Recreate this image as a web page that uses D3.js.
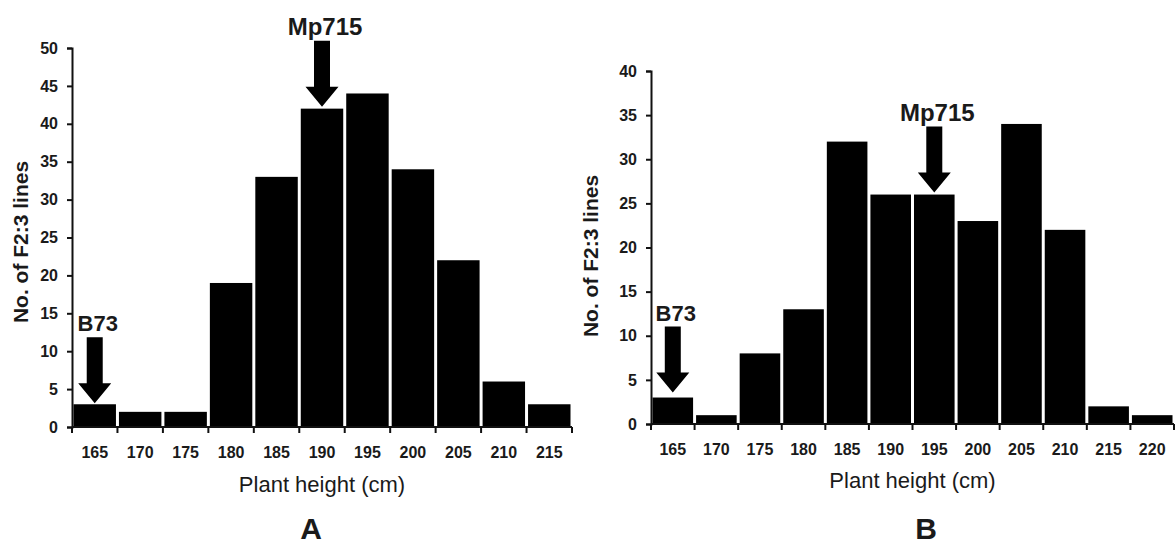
<!DOCTYPE html>
<html>
<head>
<meta charset="utf-8">
<script src="https://cdn.jsdelivr.net/npm/d3@7"></script>
<style>
  body { margin: 0; background: #fff; }
  text { font-family: "Liberation Sans Narrow", "Arial Narrow", "Liberation Sans", Arial, sans-serif; fill: #1a1a1a; }
  .tick text { font-weight: bold; font-size: 16px; }
  .domain, .tick line { stroke: #111; stroke-width: 2; }
</style>
</head>
<body>
<div id="chart"></div>
<script>
// Panel A data
const binsA = [165, 170, 175, 180, 185, 190, 195, 200, 205, 210, 215];
const countsA = [3, 2, 2, 19, 33, 42, 44, 34, 22, 6, 3];
const yTicksA = [0, 5, 10, 15, 20, 25, 30, 35, 40, 45, 50];

// Panel B data
const binsB = [165, 170, 175, 180, 185, 190, 195, 200, 205, 210, 215, 220];
const countsB = [3, 1, 8, 13, 32, 26, 26, 23, 34, 22, 2, 1];
const yTicksB = [0, 5, 10, 15, 20, 25, 30, 35, 40];

// parent lines marked with arrows
const markersA = [{ name: "B73", bin: 165 }, { name: "Mp715", bin: 190 }];
const markersB = [{ name: "B73", bin: 165 }, { name: "Mp715", bin: 195 }];

const svg = d3
  .select("#chart")
  .append("svg")
  .attr("width", 1175)
  .attr("height", 547);

const panels = [
  {
    bins: binsA, counts: countsA, yTicks: yTicksA, markers: markersA, letter: "A",
    x0: 72, x1: 572, y0: 427, y1: 48, ymax: 50,
    yTitle: [21, 242], xTitleY: 492, letterPos: [311, 539], tipGap: [1, 2]
  },
  {
    bins: binsB, counts: countsB, yTicks: yTicksB, markers: markersB, letter: "B",
    x0: 651, x1: 1174, y0: 424, y1: 71, ymax: 40,
    yTitle: [591, 256], xTitleY: 488, letterPos: [926, 539], tipGap: [5, 2]
  }
];

panels.forEach((p) => {
  const g = svg.append("g");

  const xScale = d3.scaleBand().domain(p.bins).range([p.x0, p.x1]).padding(0);
  const yScale = d3.scaleLinear().domain([0, p.ymax]).range([p.y0, p.y1]);

  // bars
  g.selectAll("rect")
    .data(p.bins)
    .enter()
    .append("rect")
    .attr("x", (d) => xScale(d) + 1.5)
    .attr("width", xScale.bandwidth() - 3)
    .attr("y", (d, i) => yScale(p.counts[i]))
    .attr("height", (d, i) => p.y0 - yScale(p.counts[i]))
    .attr("fill", "#000");

  // y axis
  g.append("g")
    .attr("transform", `translate(${p.x0},0)`)
    .call(d3.axisLeft(yScale).tickValues(p.yTicks).tickSize(5).tickSizeOuter(5).tickPadding(9));

  // x axis: ticks at bin boundaries, labels centred in bins
  const edges = p.bins.map((d) => xScale(d)).concat([p.x1]);
  const xAxis = g.append("g");
  xAxis
    .append("line")
    .attr("class", "domain")
    .attr("x1", p.x0)
    .attr("x2", p.x1)
    .attr("y1", p.y0)
    .attr("y2", p.y0);
  xAxis
    .selectAll(".edge")
    .data(edges)
    .enter()
    .append("line")
    .attr("class", "domain")
    .attr("x1", (d) => d)
    .attr("x2", (d) => d)
    .attr("y1", p.y0)
    .attr("y2", p.y0 + 6);
  xAxis
    .selectAll(".lab")
    .data(p.bins)
    .enter()
    .append("text")
    .attr("class", "lab")
    .attr("x", (d) => xScale(d) + xScale.bandwidth() / 2)
    .attr("y", p.y0 + 31)
    .attr("text-anchor", "middle")
    .style("font-size", "16px")
    .style("font-weight", "bold")
    .text((d) => d);

  // titles
  g.append("text")
    .attr("x", (p.x0 + p.x1) / 2)
    .attr("y", p.xTitleY)
    .attr("text-anchor", "middle")
    .style("font-size", "22px")
    .text("Plant height (cm)");

  g.append("text")
    .attr("transform", `translate(${p.yTitle[0]},${p.yTitle[1]}) rotate(-90)`)
    .attr("text-anchor", "middle")
    .attr("dy", "0.35em")
    .style("font-size", "21px")
    .style("font-weight", "bold")
    .text("No. of F2:3 lines");

  g.append("text")
    .attr("x", p.letterPos[0])
    .attr("y", p.letterPos[1])
    .attr("text-anchor", "middle")
    .style("font-family", "'Liberation Sans', Arial, sans-serif")
    .style("font-size", "30px")
    .style("font-weight", "bold")
    .text(p.letter);

  // arrows
  p.markers.forEach((m, k) => {
    const i = p.bins.indexOf(m.bin);
    const cx = xScale(m.bin) + xScale.bandwidth() / 2;
    const tip = yScale(p.counts[i]) - p.tipGap[k];
    const top = tip - 66;
    const headH = 20, headW = 16.5, shaftW = 8;
    g.append("path")
      .attr("d", `M${cx - shaftW},${top} L${cx + shaftW},${top} L${cx + shaftW},${tip - headH}
        L${cx + headW},${tip - headH} L${cx},${tip} L${cx - headW},${tip - headH}
        L${cx - shaftW},${tip - headH} Z`)
      .attr("fill", "#000");
    g.append("text")
      .attr("x", cx + 3)
      .attr("y", top - 6)
      .attr("text-anchor", "middle")
      .style("font-size", m.name === "B73" ? "22px" : "24px")
      .style("font-weight", "bold")
      .text(m.name);
  });
});
</script>
</body>
</html>
